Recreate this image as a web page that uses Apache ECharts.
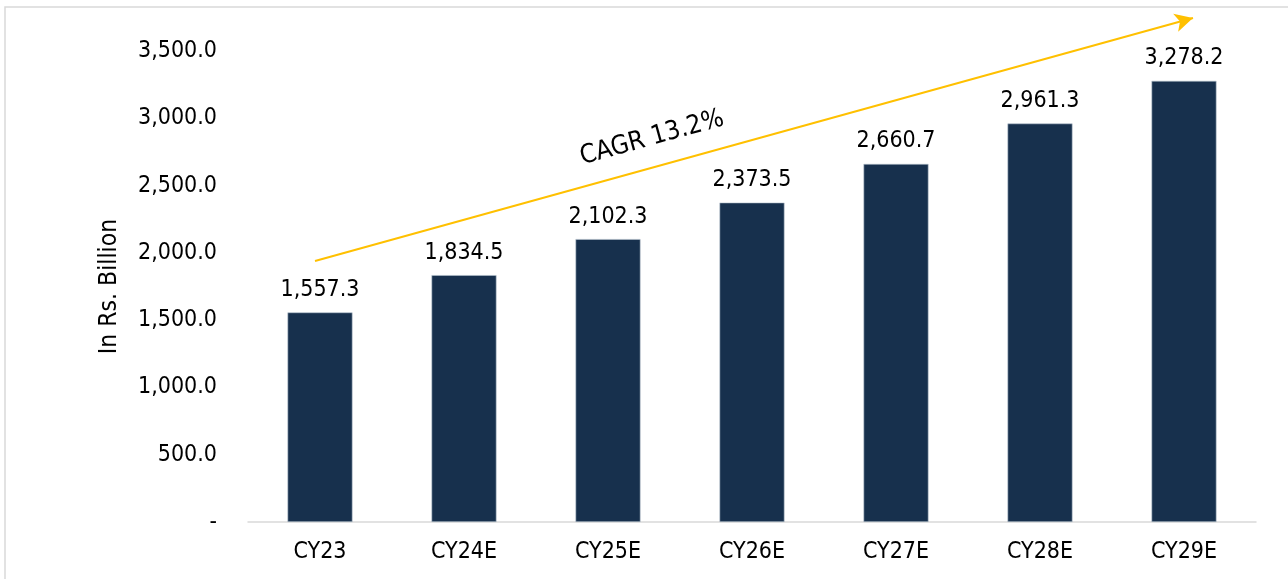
<!DOCTYPE html>
<html><head><meta charset="utf-8">
<script src="https://cdn.jsdelivr.net/npm/echarts@6/dist/echarts.min.js"></script>
<style>html,body{margin:0;padding:0;background:#fff}#c{width:1288px;height:579px}</style>
</head><body><div id="c"></div>
<script>
const categories = ['CY23','CY24E','CY25E','CY26E','CY27E','CY28E','CY29E'];
const values = [1557.3, 1834.5, 2102.3, 2373.5, 2660.7, 2961.3, 3278.2];
const yTicks = [0, 500, 1000, 1500, 2000, 2500, 3000, 3500];
const axisTitle = 'In Rs. Billion';
const cagrText = 'CAGR 13.2%';

const font = '"DejaVu Sans Condensed", "DejaVu Sans", Verdana, sans-serif';
function fmt(v){
  if (v === 0) return '-';
  return v.toLocaleString('en-US',{minimumFractionDigits:1,maximumFractionDigits:1});
}
const chart = echarts.init(document.getElementById('c'));
chart.setOption({
  animation:false,
  grid:{left:248, right:32, top:51, bottom:57, containLabel:false},
  xAxis:{type:'category', data:categories,
    axisLine:{lineStyle:{color:'#d9d9d9', width:1.5}}, axisTick:{show:false},
    axisLabel:{color:'#000', fontFamily:font, fontSize:23, margin:19}},
  yAxis:{type:'value', min:yTicks[0], max:yTicks[yTicks.length-1], interval:500,
    name:axisTitle, nameLocation:'middle', nameGap:126, nameRotate:90,
    nameTextStyle:{color:'#000', fontFamily:font, fontSize:24.5},
    axisLine:{show:false}, axisTick:{show:false}, splitLine:{show:false},
    axisLabel:{color:'#000', fontFamily:font, fontSize:23, margin:31, formatter:fmt}},
  series:[{type:'bar', data:values, barWidth:65,
    itemStyle:{color:'#17304D', borderColor:'#b8c4d0', borderWidth:0.6},
    label:{show:true, position:'top', distance:11, color:'#000', fontFamily:font, fontSize:23, formatter:p=>fmt(p.value)},
    markLine:{silent:true, symbol:['none','arrow'], symbolSize:[14,18],
      lineStyle:{color:'#FFC000', width:2, type:'solid'}, label:{show:false},
      data:[[{x:315,y:261},{x:1193,y:18}]]}
  }],
  graphic:[
    {type:'rect', shape:{x:5,y:7,width:1400,height:700}, style:{fill:'none', stroke:'#d9d9d9', lineWidth:1.5}, silent:true},
    {type:'text', x:652, y:138, rotation:15.5*Math.PI/180,
      style:{text:cagrText, fill:'#000', font:'26px '+font, textAlign:'center', textVerticalAlign:'middle'}}
  ]
});
</script></body></html>
